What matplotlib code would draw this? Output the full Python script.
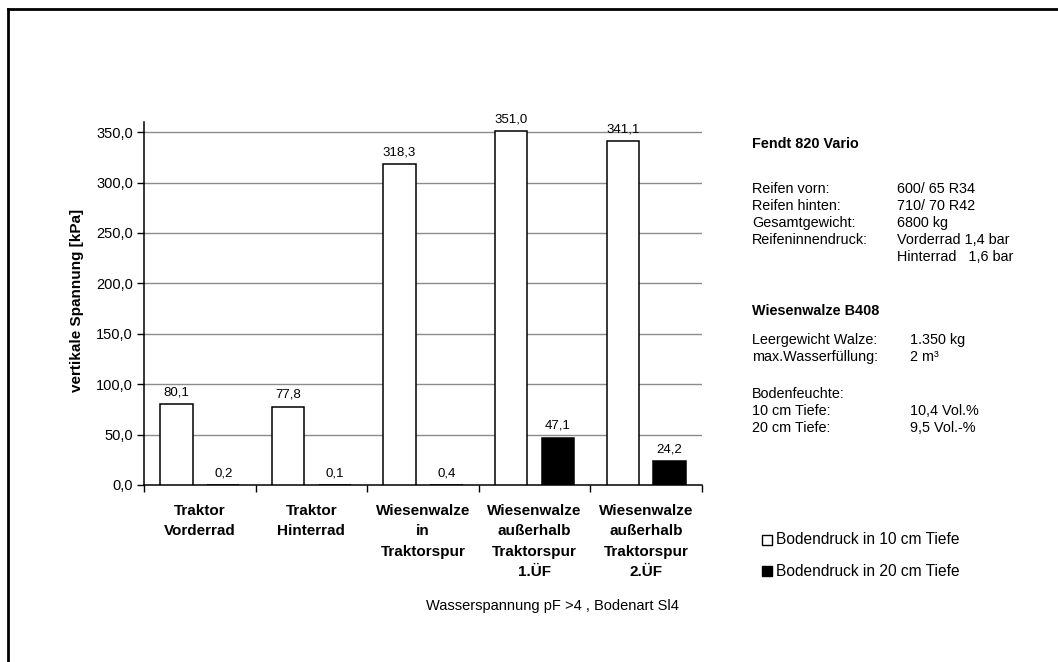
import matplotlib
matplotlib.use("Agg")
import matplotlib.pyplot as plt
from matplotlib.lines import Line2D
from matplotlib.patches import Rectangle
import numpy as np

plt.rcParams['font.family'] = ['Liberation Sans', 'DejaVu Sans']

categories = ["Traktor\nVorderrad", "Traktor\nHinterrad", "Wiesenwalze\nin\nTraktorspur",
              "Wiesenwalze\naußerhalb\nTraktorspur\n1.ÜF", "Wiesenwalze\naußerhalb\nTraktorspur\n2.ÜF"]
druck_10cm = [80.1, 77.8, 318.3, 351.0, 341.1]
druck_20cm = [0.2, 0.1, 0.4, 47.1, 24.2]
series_names = ["Bodendruck in 10 cm Tiefe", "Bodendruck in 20 cm Tiefe"]
yticks = [0, 50, 100, 150, 200, 250, 300, 350]

W, H = 1058, 662
fig = plt.figure(figsize=(W / 100, H / 100), dpi=100)

def fx(px):
    return px / W

def fy(py):
    return 1 - py / H

# outer frame (only top and left visible)
fig.add_artist(Line2D([fx(8), 1], [fy(9), fy(9)], transform=fig.transFigure, color='black', lw=2))
fig.add_artist(Line2D([fx(8), fx(8)], [fy(9), 0], transform=fig.transFigure, color='black', lw=2))

ax = fig.add_axes([fx(144), fy(485), fx(702) - fx(144), fy(122) - fy(485)])
n = len(categories)
x = np.arange(n) + 0.5
off = 0.21
bw = 0.29
ax.bar(x - off, druck_10cm, bw, facecolor='white', edgecolor='black', lw=1.1, zorder=3)
ax.bar(x + off, druck_20cm, bw, facecolor='black', edgecolor='black', lw=1.1, zorder=3)

def fmt(v):
    return f"{v:.1f}".replace('.', ',')

for xi, v in zip(x - off, druck_10cm):
    ax.annotate(fmt(v), (xi, v), xytext=(0, 4), textcoords='offset points',
                ha='center', va='bottom', fontsize=9.5)
for xi, v in zip(x + off, druck_20cm):
    ax.annotate(fmt(v), (xi, v), xytext=(0, 4), textcoords='offset points',
                ha='center', va='bottom', fontsize=9.5)

ax.set_xlim(0, n)
ax.set_ylim(0, 360)
ax.set_yticks(yticks)
ax.set_yticklabels([fmt(v) for v in yticks], fontsize=10.5)
for v in yticks[1:]:
    ax.axhline(v, color='#8c8c8c', lw=1, zorder=1)

ax.set_xticks(x)
ax.set_xticklabels(categories, fontsize=11, fontweight='bold', linespacing=1.55, va='top')
ax.set_xticks(np.arange(n + 1), minor=True)
ax.tick_params(axis='x', which='major', length=0, pad=14)
ax.tick_params(axis='x', which='minor', length=5, direction='out', width=1)
ax.tick_params(axis='y', length=5, direction='out', width=1, pad=3)
for s in ['top', 'right']:
    ax.spines[s].set_visible(False)
ax.spines['left'].set_linewidth(1.1)
ax.spines['bottom'].set_linewidth(1.1)

fig.text(fx(77), fy(300), "vertikale Spannung [kPa]", rotation=90, ha='center', va='center',
         fontsize=11, fontweight='bold')

fig.text(fx(552), fy(606), "Wasserspannung pF >4 , Bodenart Sl4", ha='center', va='center', fontsize=10.5)

# right info text
fs = 10.4
c1, c2a, c2b = 752, 897, 910
fig.text(fx(c1), fy(144), "Fendt 820 Vario", fontsize=fs, fontweight='bold', va='center')
rows1 = [("Reifen vorn:", "600/ 65 R34", 189), ("Reifen hinten:", "710/ 70 R42", 206),
         ("Gesamtgewicht:", "6800 kg", 223), ("Reifeninnendruck:", "Vorderrad 1,4 bar", 240),
         ("", "Hinterrad   1,6 bar", 257)]
for a, b, yy in rows1:
    fig.text(fx(c1), fy(yy), a, fontsize=fs, va='center')
    fig.text(fx(c2a), fy(yy), b, fontsize=fs, va='center')
fig.text(fx(c1), fy(311), "Wiesenwalze B408", fontsize=fs, fontweight='bold', va='center')
rows2 = [("Leergewicht Walze:", "1.350 kg", 340), ("max.Wasserfüllung:", "2 m³", 357),
         ("Bodenfeuchte:", "", 394), ("10 cm Tiefe:", "10,4 Vol.%", 411),
         ("20 cm Tiefe:", "9,5 Vol.-%", 428)]
for a, b, yy in rows2:
    fig.text(fx(c1), fy(yy), a, fontsize=fs, va='center')
    fig.text(fx(c2b), fy(yy), b, fontsize=fs, va='center')

# legend
for (yy, fc, name) in [(540, 'white', series_names[0]), (571, 'black', series_names[1])]:
    fig.add_artist(Rectangle((fx(762), fy(yy + 5)), fx(10), 10 / H, transform=fig.transFigure,
                             facecolor=fc, edgecolor='black', lw=1))
    fig.text(fx(776), fy(yy), name, fontsize=11.2, va='center')

fig.savefig("out.png", dpi=100)
